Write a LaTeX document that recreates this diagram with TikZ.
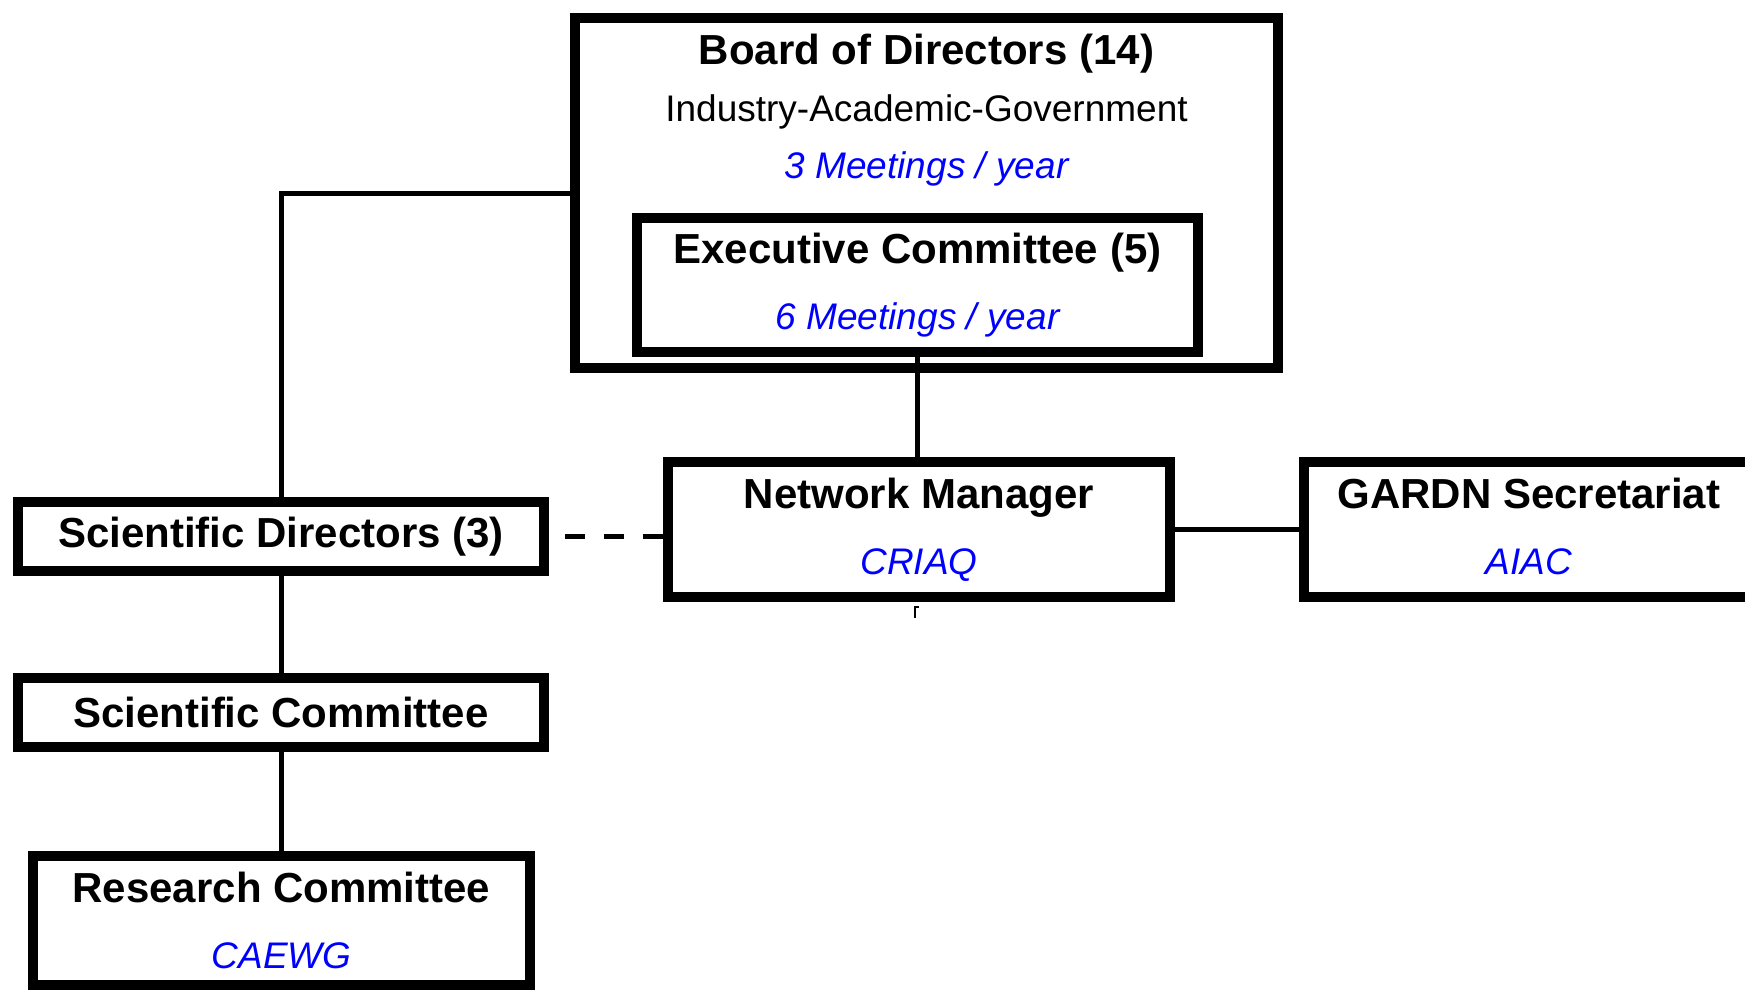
\documentclass[tikz,border=0pt]{standalone}
\usepackage{fontspec}
\setmainfont{Liberation Sans}
\usetikzlibrary{positioning}

\newcommand{\headtext}[1]{{\fontsize{21}{25}\selectfont\bfseries #1}}
\newcommand{\subtext}[1]{{\color{blue}\itshape #1}}

\tikzset{
  box/.style={draw, rectangle, line width=5pt, align=center, inner sep=0pt,
    font=\fontsize{18.5}{22}\selectfont},
  plain/.style={anchor=base, inner sep=0pt, font=\fontsize{18.5}{22}\selectfont},
  link/.style={line width=2.5pt},
}

\begin{document}
\begin{tikzpicture}[x=0.5pt,y=-0.5pt]
 \useasboundingbox (0,0) rectangle (1745,990);
 % board with its own lines of text
 \node[box, minimum width=351.5pt, minimum height=175pt] (board) at (926.5,193) {};
 \node[plain] (boardtitle) at (926.5,65) {\headtext{Board of Directors (14)}};
 \node[plain] (boardmix) at (926.5,122) {Industry-Academic-Government};
 \node[plain] (boardmeet) at (926.5,178) {\subtext{3 Meetings / year}};
 \node[box, minimum width=280.5pt, minimum height=67pt] (exec) at (917.5,285)
   {\headtext{Executive Committee (5)}\\[11pt]\subtext{6 Meetings / year}};
 % middle row
 \node[box, minimum width=251pt, minimum height=67.5pt] (manager) at (919,529.5)
   {\headtext{Network Manager}\\[11pt]\subtext{CRIAQ}};
 \node[box, minimum width=225pt, minimum height=67.5pt] (secretariat) at (1529,529.5)
   {\headtext{GARDN Secretariat\vphantom{g}}\\[11pt]\subtext{AIAC\vphantom{Q}}};
 % left column
 \node[box, minimum width=263pt, minimum height=34.5pt] (scidir) at (281,536.5)
   {\headtext{Scientific Directors (3)}};
 \node[box, minimum width=263pt, minimum height=34.5pt] (scicom) at (281,712.5)
   {\headtext{Scientific Committee}};
 \node[box, minimum width=248.5pt, minimum height=64.5pt] (research) at (281.5,920.5)
   {\headtext{Research Committee}\\[11pt]\subtext{CAEWG}};
 % connectors
 \draw[link] (board.west) -| (scidir.north);
 \draw[link] (exec.south) -- (exec.south |- manager.north);
 \draw[link] (manager.east) -- (secretariat.west);
 \draw[link, dash pattern=on 10pt off 9.5pt, shorten <=8pt] (scidir.east) -- (scidir.east -| manager.west);
 \draw[link] (scidir.south) -- (scicom.north);
 \draw[link] (scicom.south) -- (scicom.south |- research.north);
 \draw[line width=0.8pt] ([yshift=-2.5pt]manager.south) -- ++(-4,0) -- ++(0,11);
\end{tikzpicture}
\end{document}
